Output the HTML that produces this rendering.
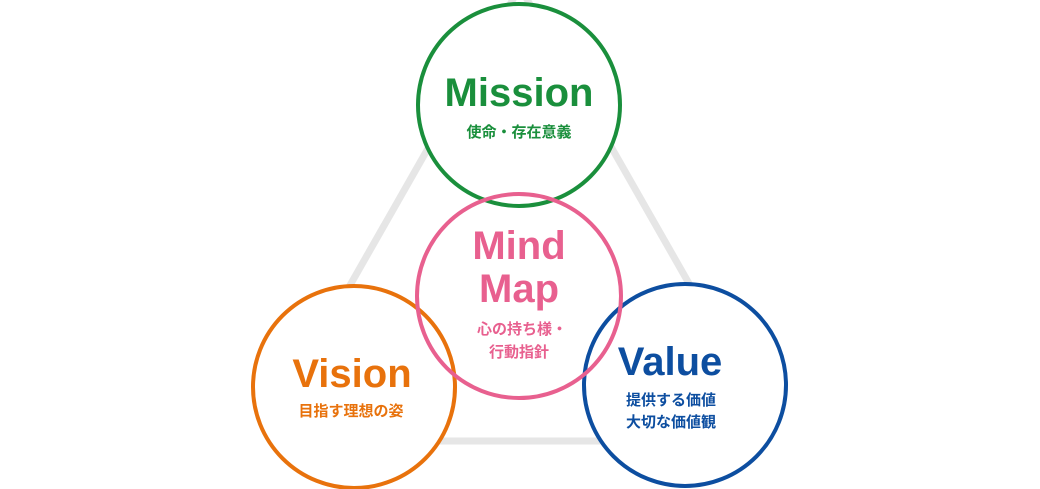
<!DOCTYPE html>
<html><head><meta charset="utf-8"><style>
html,body{margin:0;padding:0;background:#fff;}
svg{display:block;}
text{font-family:"Liberation Sans","Noto Sans CJK JP",sans-serif;font-weight:bold;text-anchor:middle;}
</style></head><body>
<svg width="1040" height="489" viewBox="0 0 1040 489" xmlns="http://www.w3.org/2000/svg">
<g stroke="#e6e6e6" stroke-width="7" fill="none">
<line x1="520" y1="-13" x2="300" y2="373"/>
<line x1="520" y1="-13" x2="740" y2="373"/>
<line x1="354" y1="441" x2="685" y2="441"/>
</g>
<circle cx="354" cy="387" r="101" fill="#fff" stroke="#e8720c" stroke-width="4"/>
<circle cx="685" cy="385" r="101" fill="#fff" stroke="#0d4ea0" stroke-width="4"/>
<circle cx="519" cy="105" r="101" fill="#fff" stroke="#1a8f3c" stroke-width="4"/>
<circle cx="519" cy="296" r="102" fill="none" stroke="#e8608f" stroke-width="4"/>
<text x="519" y="106" font-size="40" fill="#1a8f3c">Mission</text>
<text x="519" y="137" font-size="15" fill="#1a8f3c">使命・存在意義</text>
<text x="519" y="259" font-size="40" fill="#e8608f">Mind</text>
<text x="519" y="302" font-size="40" fill="#e8608f">Map</text>
<text x="522" y="334" font-size="15" fill="#e8608f">心の持ち様・</text>
<text x="519" y="357" font-size="15" fill="#e8608f">行動指針</text>
<text x="352" y="387" font-size="40" fill="#e8720c">Vision</text>
<text x="351" y="416" font-size="15" fill="#e8720c">目指す理想の姿</text>
<text x="670" y="375" font-size="40" fill="#0d4ea0">Value</text>
<text x="671" y="405" font-size="15" fill="#0d4ea0">提供する価値</text>
<text x="671" y="427" font-size="15" fill="#0d4ea0">大切な価値観</text>
</svg>
</body></html>
